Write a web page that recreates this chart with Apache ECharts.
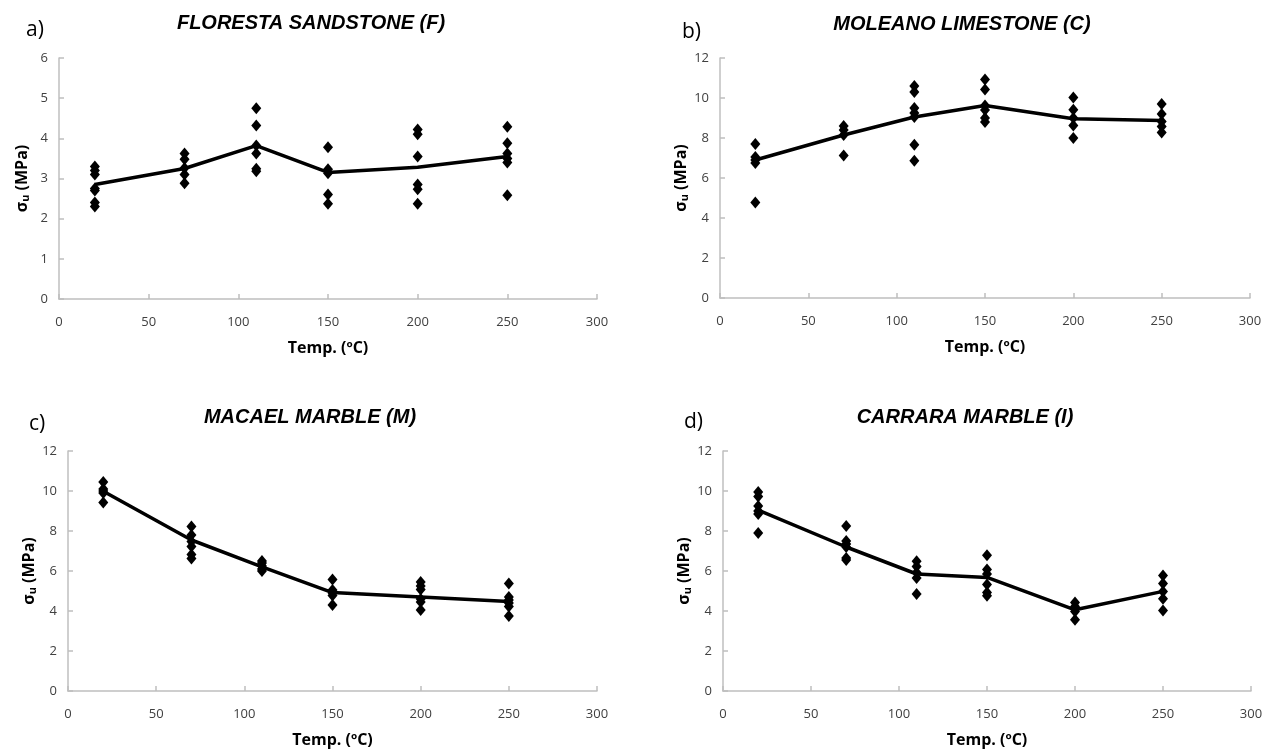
<!DOCTYPE html>
<html style="height: 100%">
<head>
  <meta charset="utf-8">
  <script type="text/javascript" src="https://cdn.jsdelivr.net/npm/echarts/dist/echarts.min.js"></script>
</head>
<body style="height: 100%; margin: 0; background: #fff">
  <div id="container" style="width: 1271px; height: 751px"></div>
  <script type="text/javascript">
// temperatures used in every test
var temps = [20, 70, 110, 150, 200, 250];

// individual measurements, one list per temperature
var florestaPoints = [
  [3.3, 3.2, 3.1, 2.75, 2.7, 2.4, 2.3],
  [3.62, 3.48, 3.26, 3.1, 2.88],
  [4.75, 4.32, 3.82, 3.62, 3.24, 3.18],
  [3.78, 3.23, 3.13, 2.6, 2.37],
  [4.22, 4.1, 3.55, 2.85, 2.73, 2.37],
  [4.29, 3.88, 3.62, 3.5, 3.4, 2.58]
];
var moleanoPoints = [
  [7.7, 7.05, 6.9, 6.75, 4.78],
  [8.6, 8.4, 8.15, 7.12],
  [10.6, 10.3, 9.5, 9.25, 9.05, 7.66, 6.86],
  [10.92, 10.42, 9.62, 9.4, 9.0, 8.8],
  [10.03, 9.41, 9.0, 8.63, 8.0],
  [9.7, 9.2, 8.83, 8.58, 8.28]
];
var macaelPoints = [
  [10.45, 10.1, 10.0, 9.9, 9.42],
  [8.22, 7.8, 7.47, 7.22, 6.83, 6.63],
  [6.5, 6.4, 6.25, 6.1, 6.0],
  [5.58, 5.05, 4.9, 4.78, 4.3],
  [5.45, 5.25, 5.07, 4.6, 4.45, 4.05],
  [5.38, 4.7, 4.55, 4.4, 4.23, 3.75]
];
var carraraPoints = [
  [9.95, 9.72, 9.25, 9.0, 8.85, 7.9],
  [8.25, 7.5, 7.35, 7.2, 6.65, 6.55],
  [6.49, 6.23, 5.93, 5.65, 4.85],
  [6.79, 6.07, 5.85, 5.32, 4.93, 4.76],
  [4.43, 4.23, 3.98, 3.56],
  [5.78, 5.37, 4.98, 4.61, 4.03]
];

// mean curves
var florestaMean = [2.85, 3.25, 3.82, 3.15, 3.28, 3.55];
var moleanoMean = [6.9, 8.15, 9.05, 9.62, 8.96, 8.88];
var macaelMean = [9.99, 7.55, 6.21, 4.92, 4.7, 4.48];
var carraraMean = [9.04, 7.2, 5.85, 5.68, 4.06, 4.98];

var titles = ['FLORESTA SANDSTONE (F)', 'MOLEANO LIMESTONE (C)', 'MACAEL MARBLE (M)', 'CARRARA MARBLE (I)'];
var letters = ['a)', 'b)', 'c)', 'd)'];
var yMax = [6, 12, 12, 12];
var yStep = [1, 2, 2, 2];

var allPoints = [florestaPoints, moleanoPoints, macaelPoints, carraraPoints];
var allMeans = [florestaMean, moleanoMean, macaelMean, carraraMean];

// panel boxes: left, top, width, height
var boxes = [
  [59, 58, 538, 241],
  [720, 58, 530, 240],
  [68, 451, 529, 240],
  [723, 451, 528, 240]
];
var titlePos = [[306, 8], [957, 9], [305, 402], [960, 402]];
var letterPos = [[21, 15], [677, 17], [24, 409], [679, 407]];

var tickFont = "'Open Sans', 'Liberation Sans', sans-serif";

var dom = document.getElementById('container');
var myChart = echarts.init(dom);

var option = {
  animation: false,
  title: [],
  grid: [],
  xAxis: [],
  yAxis: [],
  series: []
};

for (var p = 0; p < 4; p++) {
  var b = boxes[p];
  option.grid.push({ left: b[0], top: b[1], width: b[2], height: b[3] });

  option.title.push({
    text: titles[p],
    left: titlePos[p][0],
    top: titlePos[p][1],
    textAlign: 'center',
    textStyle: {
      fontFamily: "'Liberation Sans', sans-serif",
      fontSize: 20, fontWeight: 'bold', fontStyle: 'italic', color: '#000'
    }
  });
  option.title.push({
    text: letters[p],
    left: letterPos[p][0],
    top: letterPos[p][1],
    textStyle: { fontFamily: tickFont, fontSize: 21, fontWeight: 'normal', color: '#000' }
  });

  option.xAxis.push({
    type: 'value', gridIndex: p, min: 0, max: 300, interval: 50,
    name: 'Temp. (ºC)', nameLocation: 'middle', nameGap: 41,
    nameTextStyle: { fontFamily: tickFont, fontSize: 16, fontWeight: 'bold', color: '#000' },
    axisLine: { lineStyle: { color: '#bfbfbf', width: 1.5 } },
    axisTick: { show: true, inside: true, length: 5, lineStyle: { color: '#bfbfbf', width: 1.5 } },
    axisLabel: { fontFamily: tickFont, fontSize: 13, color: '#404040', margin: 17 },
    splitLine: { show: false }
  });
  option.yAxis.push({
    type: 'value', gridIndex: p, min: 0, max: yMax[p], interval: yStep[p],
    name: '{s|σ}{u|u}{s| (MPa)}', nameLocation: 'middle', nameGap: 28, nameRotate: 90,
    nameTextStyle: {
      rich: {
        s: { fontFamily: tickFont, fontSize: 16, fontWeight: 'bold', color: '#000' },
        u: { fontFamily: tickFont, fontSize: 11, fontWeight: 'bold', color: '#000', verticalAlign: 'bottom', padding: [7, 0, 0, 0] }
      }
    },
    axisLine: { show: true, lineStyle: { color: '#bfbfbf', width: 1.5 } },
    axisTick: { show: true, inside: true, length: 5, lineStyle: { color: '#bfbfbf', width: 1.5 } },
    axisLabel: { fontFamily: tickFont, fontSize: 13, color: '#404040', margin: 11 },
    splitLine: { show: false }
  });

  var scatterData = [];
  allPoints[p].forEach(function (list, i) {
    list.forEach(function (v) { scatterData.push([temps[i], v]); });
  });
  option.series.push({
    type: 'scatter', xAxisIndex: p, yAxisIndex: p,
    symbol: 'diamond', symbolSize: [10, 12],
    itemStyle: { color: '#000', opacity: 1 },
    data: scatterData, z: 3
  });
  option.series.push({
    type: 'line', xAxisIndex: p, yAxisIndex: p,
    showSymbol: false, symbol: 'none',
    lineStyle: { color: '#000', width: 3.5 },
    data: temps.map(function (t, i) { return [t, allMeans[p][i]]; }),
    z: 4
  });
}

myChart.setOption(option);
  </script>
</body>
</html>
